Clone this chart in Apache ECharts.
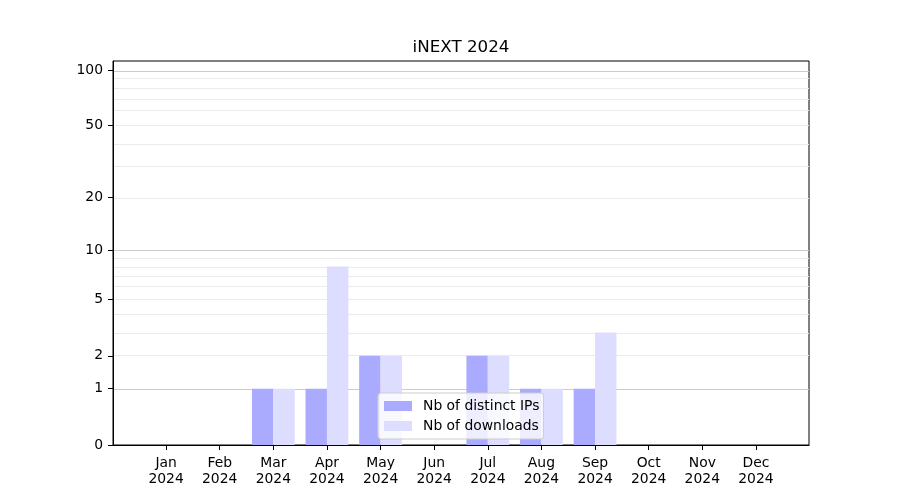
<!DOCTYPE html>
<html>
<head>
<meta charset="utf-8">
<script src="https://cdn.jsdelivr.net/npm/echarts@6/dist/echarts.min.js"></script>
<style>html,body{margin:0;padding:0;background:#fff;}#c{width:900px;height:500px;}</style>
</head>
<body>
<div id="c"></div>
<script>
const months = ['Jan','Feb','Mar','Apr','May','Jun','Jul','Aug','Sep','Oct','Nov','Dec'];
const year = '2024';
const distinctIPs = [0,0,1,1,2,0,2,1,1,0,0,0];
const downloads   = [0,0,1,8,2,0,2,1,3,0,0,0];
const yTickLabels = [0,1,2,5,10,20,50,100];
const majorGrid = [1,10,100];
const minorGrid = [2,3,4,5,6,7,8,9,20,30,40,50,60,70,80,90];
const yMaxValue = 112;

const f = v => Math.log10(v + 1);
const inv = t => Math.round(Math.pow(10, t) - 1);
const FONT = 'DejaVu Sans';

const gridLines = majorGrid.map(v => ({yAxis: f(v), lineStyle: {color: '#cccccc', width: 1, type: 'solid'}}))
  .concat(minorGrid.map(v => ({yAxis: f(v), lineStyle: {color: '#ebebeb', width: 1, type: 'solid'}})));

const chart = echarts.init(document.getElementById('c'), null, {renderer: 'canvas'});
chart.setOption({
  animation: false,
  backgroundColor: '#fff',
  title: {
    text: 'iNEXT ' + year,
    left: 456, top: 34, textAlign: 'center',
    textStyle: {fontFamily: FONT, fontSize: 16.7, fontWeight: 'normal', color: '#000'}
  },
  grid: {left: 113, right: 91, top: 61, bottom: 55, show: true, borderColor: '#000', borderWidth: 1, backgroundColor: 'transparent'},
  legend: {
    orient: 'vertical',
    left: 378, top: 393,
    icon: 'rect', itemWidth: 28, itemHeight: 10, itemGap: 6,
    padding: [6, 4, 6, 6],
    backgroundColor: 'rgba(255,255,255,0.8)', borderColor: '#cccccc', borderWidth: 1, borderRadius: 3,
    textStyle: {fontFamily: FONT, fontSize: 13.9, color: '#000', padding: [0, 0, 0, 6], lineHeight: 14},
    data: ['Nb of distinct IPs', 'Nb of downloads']
  },
  xAxis: {
    type: 'value', min: -0.99, max: 11.99,
    axisLine: {show: true, onZero: false, lineStyle: {color: '#000', width: 1}},
    axisTick: {show: true, length: 5, lineStyle: {color: '#000'}, customValues: months.map((m, i) => i)},
    axisLabel: {
      customValues: months.map((m, i) => i),
      formatter: v => months[Math.round(v)] + '\n' + year,
      fontFamily: FONT, fontSize: 13.9, color: '#000', lineHeight: 16, margin: 10
    },
    splitLine: {show: false}
  },
  yAxis: {
    type: 'value', min: 0, max: f(yMaxValue),
    axisLine: {show: true, onZero: false, lineStyle: {color: '#000', width: 1}},
    axisTick: {show: true, length: 5, lineStyle: {color: '#000'}, customValues: yTickLabels.map(f)},
    axisLabel: {
      customValues: yTickLabels.map(f),
      formatter: t => String(inv(t)),
      fontFamily: FONT, fontSize: 13.9, color: '#000', margin: 10
    },
    splitLine: {show: false}
  },
  series: [
    {
      name: 'gridlines', type: 'line', data: [], z: 0, silent: true,
      markLine: {silent: true, symbol: 'none', z: 0, label: {show: false}, animation: false, data: gridLines}
    },
    {
      name: 'Nb of distinct IPs', type: 'bar', z: 2,
      barWidth: 21.4, barGap: '0%',
      itemStyle: {color: '#aaaaff'},
      data: distinctIPs.map((v, i) => [i, f(v)])
    },
    {
      name: 'Nb of downloads', type: 'bar', z: 2,
      barWidth: 21.4, barGap: '0%',
      itemStyle: {color: '#ddddff'},
      data: downloads.map((v, i) => [i, f(v)])
    }
  ]
});
</script>
</body>
</html>
